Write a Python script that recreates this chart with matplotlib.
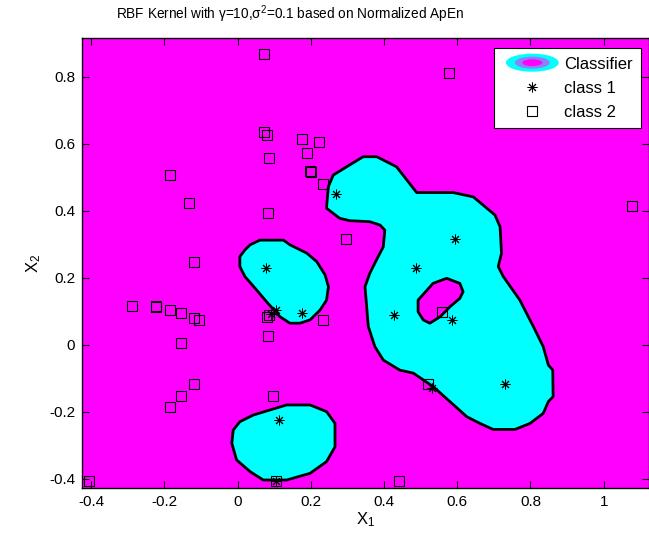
import numpy as np
import matplotlib
matplotlib.use('Agg')
import matplotlib.pyplot as plt
from matplotlib.patches import Polygon, Ellipse, Patch
from matplotlib.lines import Line2D
from matplotlib.legend_handler import HandlerBase

plt.rcParams['font.family'] = ['Liberation Sans', 'DejaVu Sans']
plt.rcParams['mathtext.fontset'] = 'custom'
plt.rcParams['mathtext.rm'] = 'Liberation Sans'
plt.rcParams['mathtext.it'] = 'Liberation Sans:italic'
plt.rcParams['mathtext.default'] = 'regular'

# class 1 points (asterisks)
c1_x = [0.268, 0.078, 0.106, 0.176, 0.090, 0.593, 0.486, 0.427, 0.587,
        0.731, 0.532, 0.113, 0.104]
c1_y = [0.450, 0.229, 0.104, 0.096, 0.093, 0.316, 0.230, 0.090, 0.075,
        -0.117, -0.129, -0.224, -0.405]

# class 2 points (squares)
c2_x = [0.071, 0.071, 0.081, 0.087, 0.175, 0.221, 0.189, 0.198, 0.201, 0.233,
        -0.184, -0.134, 0.082, 0.578, 1.078, 0.297, -0.120, 0.080, 0.085, 0.232,
        0.082, -0.289, -0.224, -0.222, -0.184, -0.156, -0.120, -0.106, -0.156,
        0.557, 0.521, -0.120, -0.156, -0.184, 0.096, -0.406, 0.104, 0.441]
c2_y = [0.869, 0.637, 0.627, 0.557, 0.615, 0.607, 0.572, 0.520, 0.517, 0.481,
        0.508, 0.423, 0.393, 0.811, 0.416, 0.316, 0.247, 0.083, 0.090, 0.075,
        0.027, 0.117, 0.114, 0.116, 0.104, 0.096, 0.082, 0.075, 0.007,
        0.098, -0.117, -0.117, -0.152, -0.184, -0.152, -0.405, -0.405, -0.405]

# classifier boundary outlines (class 1 region)
big_x = [0.243, 0.248, 0.261, 0.298, 0.343, 0.380, 0.434, 0.462, 0.489, 0.589,
         0.644, 0.703, 0.717, 0.721, 0.712, 0.726, 0.771, 0.808, 0.835, 0.849,
         0.861, 0.862, 0.849, 0.835, 0.799, 0.758, 0.698, 0.662, 0.626, 0.580,
         0.534, 0.480, 0.443, 0.398, 0.375, 0.357, 0.348, 0.361, 0.384, 0.398,
         0.402, 0.389, 0.361, 0.307, 0.279, 0.243]
big_y = [0.413, 0.473, 0.507, 0.532, 0.562, 0.562, 0.532, 0.493, 0.455, 0.455,
         0.442, 0.388, 0.353, 0.274, 0.234, 0.204, 0.134, 0.055, -0.005, -0.060,
         -0.075, -0.154, -0.169, -0.204, -0.234, -0.252, -0.252, -0.234, -0.214, -0.169,
         -0.124, -0.084, -0.075, -0.045, -0.005, 0.055, 0.174, 0.214, 0.264, 0.293,
         0.343, 0.358, 0.368, 0.371, 0.378, 0.408]

hole_x = [0.493, 0.534, 0.571, 0.607, 0.616, 0.607, 0.580, 0.553, 0.525, 0.507, 0.493]
hole_y = [0.134, 0.184, 0.199, 0.184, 0.159, 0.139, 0.114, 0.084, 0.065, 0.075, 0.099]

mid_x = [0.061, 0.125, 0.143, 0.189, 0.216, 0.239, 0.248, 0.243, 0.225, 0.198,
         0.170, 0.143, 0.116, 0.079, 0.052, 0.020, 0.006, 0.006, 0.020, 0.034]
mid_y = [0.313, 0.313, 0.299, 0.274, 0.249, 0.209, 0.174, 0.134, 0.104, 0.075,
         0.065, 0.065, 0.084, 0.129, 0.164, 0.204, 0.234, 0.264, 0.284, 0.299]

low_x = [0.088, 0.134, 0.198, 0.243, 0.266, 0.266, 0.243, 0.198, 0.134, 0.070,
         0.034, -0.003, -0.016, -0.012, 0.006, 0.043]
low_y = [-0.194, -0.179, -0.179, -0.199, -0.234, -0.304, -0.348, -0.383, -0.403, -0.403,
         -0.378, -0.343, -0.293, -0.254, -0.229, -0.209]

MAG = '#ff00ff'
CYAN = '#00ffff'


class HandlerRings(HandlerBase):
    def create_artists(self, legend, orig_handle, xdescent, ydescent,
                       width, height, fontsize, trans):
        cx = width / 2 - xdescent
        cy = height / 2 - ydescent
        arts = []
        for s, c in [(1.0, CYAN), (0.66, '#9080f8'), (0.38, MAG)]:
            arts.append(Ellipse((cx, cy), width * 0.88 * s, height * 1.55 * s,
                                facecolor=c, edgecolor='none', transform=trans))
        return arts


fig = plt.figure(figsize=(6.49, 5.37), dpi=100)
ax = fig.add_axes([0.1263, 0.0918, 0.8744, 0.8369])
ax.set_facecolor(MAG)

for px, py, fc in [(big_x, big_y, CYAN), (hole_x, hole_y, MAG),
                   (mid_x, mid_y, CYAN), (low_x, low_y, CYAN)]:
    ax.add_patch(Polygon(np.column_stack([px, py]), closed=True,
                         facecolor=fc, edgecolor='black', linewidth=2.0,
                         joinstyle='round'))

star = (8, 2, 0)
ax.plot(c1_x, c1_y, linestyle='none', marker=star, markersize=7,
        color='black', markeredgewidth=0.7)
ax.plot(c2_x, c2_y, linestyle='none', marker='s', markersize=7.5,
        markerfacecolor='none', markeredgecolor='black', markeredgewidth=0.8)

ax.set_xlim(-0.4254, 1.1252)
ax.set_ylim(-0.426, 0.9155)
ax.set_xticks([-0.4, -0.2, 0, 0.2, 0.4, 0.6, 0.8, 1])
ax.set_xticklabels(['-0.4', '-0.2', '0', '0.2', '0.4', '0.6', '0.8', '1'])
ax.set_yticks([-0.4, -0.2, 0, 0.2, 0.4, 0.6, 0.8])
ax.set_yticklabels(['-0.4', '-0.2', '0', '0.2', '0.4', '0.6', '0.8'])
ax.tick_params(direction='in', top=True, right=True, length=5, width=0.8,
               labelsize=11, pad=5)
for sp in ax.spines.values():
    sp.set_linewidth(1.0)

ax.set_xlabel('X$_1$', fontsize=12, labelpad=1)
ax.set_ylabel('X$_2$', fontsize=12, labelpad=4)
fig.text(290 / 649, 1 - 14 / 537,
         r'RBF Kernel with $\gamma$=10,$\sigma^2$=0.1 based on Normalized ApEn',
         fontsize=9.8, ha='center', va='center')

proxy = Patch(facecolor=CYAN)
h1 = Line2D([], [], linestyle='none', marker=star, markersize=7,
            color='black', markeredgewidth=0.7)
h2 = Line2D([], [], linestyle='none', marker='s', markersize=7.5,
            markerfacecolor='none', markeredgecolor='black', markeredgewidth=0.8)
leg = ax.legend([proxy, h1, h2], ['Classifier', 'class 1', 'class 2'],
                handler_map={proxy: HandlerRings()}, loc='upper right',
                bbox_to_anchor=(0.985, 0.978), borderaxespad=0,
                fontsize=12, fancybox=False, framealpha=1, edgecolor='black',
                handlelength=3.6, handletextpad=0.1, labelspacing=0.55,
                borderpad=0.5, numpoints=1)
leg.get_frame().set_linewidth(0.8)

plt.savefig('out.png', dpi=100)
